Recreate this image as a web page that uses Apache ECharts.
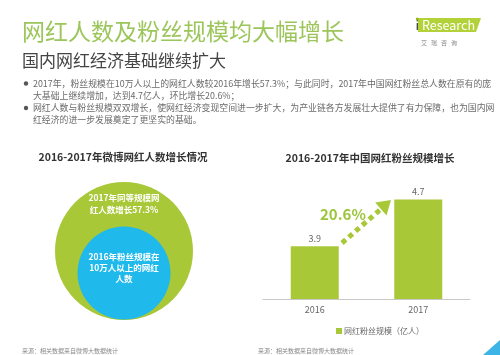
<!DOCTYPE html>
<html><head><meta charset="utf-8">
<script src="https://cdn.jsdelivr.net/npm/echarts@6/dist/echarts.min.js"></script>
<style>html,body{margin:0;padding:0;background:#fff}#c{width:500px;height:355px}</style>
</head><body><div id="c"></div>
<script>
var years = ['2016', '2017'];
var fansScale = [3.9, 4.7];           // 亿人
var growthRate = '20.6%';
var circleValues = [157.3, 100];      // 2017 vs 2016 网红人数 (index)
var circleLabels = [['2017年同等规模网', '红人数增长57.3%'], ['2016年粉丝规模在', '10万人以上的网红', '人数']];
var mainTitle = '网红人数及粉丝规模均大幅增长';
var subTitle = '国内网红经济基础继续扩大';
var bulletLines = [
  '2017年，粉丝规模在10万人以上的网红人数较2016年增长57.3%；与此同时，2017年中国网红粉丝总人数在原有的庞',
  '大基础上继续增加，达到4.7亿人，环比增长20.6%；',
  '网红人数与粉丝规模双双增长，使网红经济变现空间进一步扩大，为产业链各方发展壮大提供了有力保障，也为国内网',
  '红经济的进一步发展奠定了更坚实的基础。'
];
var leftTitle = '2016-2017年微博网红人数增长情况';
var rightTitle = '2016-2017年中国网红粉丝规模增长';
var seriesName = '网红粉丝规模（亿人）';
var source = '来源：相关数据来自微博大数据统计';

var FONT = '"Noto Sans CJK SC", "Noto Sans", sans-serif';
var GREEN = '#a8c838';
var BLUE = '#1fb9ec';

var chart = echarts.init(document.getElementById('c'), null, {renderer: 'canvas'});

var g = [];
function txt(x, y, s, st) {
  g.push({type: 'text', x: x, y: y, z: 100, silent: true,
    style: Object.assign({text: s, font: '9px ' + FONT, fill: '#666', textVerticalAlign: 'middle'}, st || {})});
}
txt(22, 31, mainTitle, {font: '23px ' + FONT, fill: '#9cc65b'});
txt(22, 61, subTitle, {font: '17px ' + FONT, fill: '#444'});
var lineY = [83.5, 96, 108, 120];
bulletLines.forEach(function (s, i) { txt(33, lineY[i], s, {font: '8.9px ' + FONT, fill: '#6a6a6a'}); });
g.push({type: 'circle', z: 100, shape: {cx: 26, cy: lineY[0], r: 2.2}, style: {fill: '#555'}});
g.push({type: 'circle', z: 100, shape: {cx: 26, cy: lineY[2], r: 2.2}, style: {fill: '#555'}});
// logo
g.push({type: 'polygon', z: 100, shape: {points: [[418, 18], [481, 18], [476, 32], [418, 32]]}, style: {fill: '#b3d23a'}});
txt(415.5, 25, 'i', {font: '13px ' + FONT, fill: '#333'});
g.push({type: 'circle', z: 101, shape: {cx: 417.3, cy: 19, r: 1.5}, style: {fill: '#8fb81e'}});
txt(422, 25, 'Research', {font: '12.5px ' + FONT, fill: '#fff'});
txt(421, 43, '艾   瑞   咨   询', {font: '6px ' + FONT, fill: '#888'});
// chart titles
txt(123, 157, leftTitle, {font: 'bold 10.5px ' + FONT, fill: '#333', textAlign: 'center'});
txt(370, 158, rightTitle, {font: 'bold 10.5px ' + FONT, fill: '#333', textAlign: 'center'});
// circle labels
[[198, 210], [257, 268, 279]].forEach(function (ys, k) {
  circleLabels[k].forEach(function (s, i) {
    txt(124, ys[i], s, {font: 'bold 8.5px ' + FONT, fill: '#fff', textAlign: 'center'});
  });
});
// growth arrow
g.push({type: 'line', z: 100, shape: {x1: 342, y1: 243, x2: 381, y2: 209},
  style: {stroke: GREEN, lineWidth: 5, lineDash: [5, 4]}});
g.push({type: 'polygon', z: 100, shape: {points: [[391, 200], [386.5, 215.5], [375.2, 202.5]]}, style: {fill: GREEN}});
txt(320, 214, growthRate, {font: 'bold 15px ' + FONT, fill: '#9cc53a'});
// sources
txt(22, 351, source, {font: '6px ' + FONT, fill: '#888'});
txt(258, 351, source, {font: '6px ' + FONT, fill: '#888'});
g.push({type: 'polygon', z: 100, shape: {points: [[500, 340], [500, 355], [483, 355]]}, style: {fill: '#3cb4e6'}});

chart.setOption({
  animation: false,
  textStyle: {fontFamily: FONT},
  grid: {left: 263, right: 30, top: 182, bottom: 56},
  xAxis: {type: 'category', data: years,
    axisLine: {lineStyle: {color: '#c8c8c8'}}, axisTick: {show: false},
    axisLabel: {color: '#666', fontSize: 9, margin: 6}},
  yAxis: {type: 'value', min: 3, max: 5, show: false},
  legend: {left: 331, top: 322, itemWidth: 6, itemHeight: 6, itemGap: 2, icon: 'rect',
    textStyle: {color: '#666', fontSize: 8, padding: [0, 0, 0, -3]}, data: [seriesName]},
  series: [
    {type: 'bar', name: seriesName, data: fansScale, barWidth: 48,
      itemStyle: {color: GREEN},
      label: {show: true, position: 'top', color: '#666', fontSize: 9, distance: 3}},
    {type: 'pie', radius: 69, center: [124, 251], silent: true,
      label: {show: false}, labelLine: {show: false},
      data: [{value: circleValues[0], name: '2017', itemStyle: {color: GREEN}}]},
    {type: 'pie', radius: 46.5, center: [124, 273], silent: true,
      label: {show: false}, labelLine: {show: false},
      data: [{value: circleValues[1], name: '2016', itemStyle: {color: BLUE}}]}
  ],
  graphic: g
});
</script></body></html>
